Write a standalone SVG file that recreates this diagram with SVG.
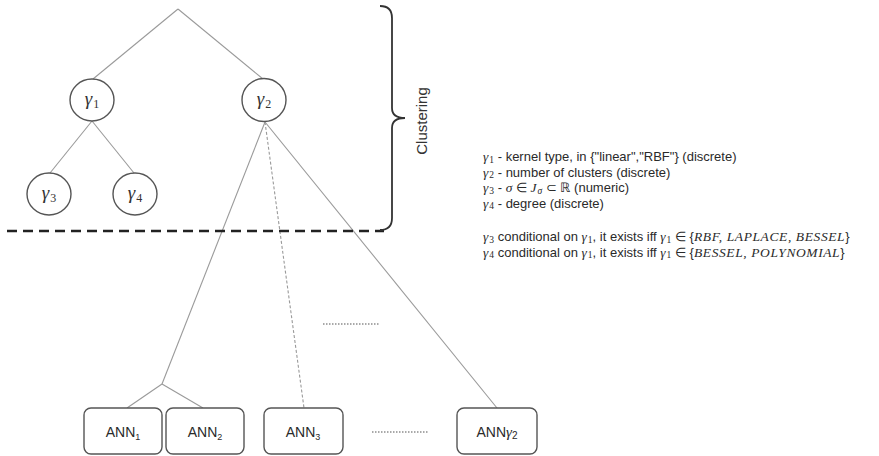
<svg xmlns="http://www.w3.org/2000/svg" width="879" height="456" viewBox="0 0 879 456">
<style>
.edge{stroke:#9a9a9a;stroke-width:1.1;fill:none}
.circ{fill:#fff;stroke:#555;stroke-width:1.4}
.box{fill:#fff;stroke:#555;stroke-width:1.4}
.g{font-family:"Liberation Serif","DejaVu Serif",serif;font-style:italic;font-size:19px;fill:#333}
.gs{font-family:"Liberation Serif","DejaVu Serif",serif;font-style:normal;font-size:12px;fill:#333}
.lbl{font-family:"Liberation Sans",Arial,sans-serif;font-size:14px;fill:#2a2a2a;text-anchor:middle}
.txt{font-family:"Liberation Sans",Arial,sans-serif;font-size:13px;fill:#2a2a2a}
.m{font-family:"Liberation Serif","DejaVu Serif",serif;font-style:italic;font-size:13.5px}
.set{font-family:"Liberation Serif","DejaVu Serif",serif;font-style:italic;font-size:13.5px;letter-spacing:0.6px}
.ms{font-family:"Liberation Serif","DejaVu Serif",serif;font-size:9.5px}
.dot{stroke:#555;stroke-width:1.2;stroke-dasharray:1.5 1.5}
</style>
<g id="connectors">
<line class="edge" x1="178" y1="9" x2="93" y2="79"/>
<line class="edge" x1="178" y1="9" x2="263" y2="79"/>
<line class="edge" x1="92" y1="121" x2="50" y2="173"/>
<line class="edge" x1="92" y1="121" x2="134" y2="173"/>
<line class="edge" x1="265" y1="122" x2="162" y2="384"/>
<line class="edge" x1="162" y1="384" x2="127" y2="408"/>
<line class="edge" x1="162" y1="384" x2="203" y2="408"/>
<line class="edge" x1="265" y1="122" x2="304" y2="408" stroke-dasharray="3 2"/>
<line class="edge" x1="265" y1="122" x2="497" y2="408"/>
</g>
<g id="separator">
<line x1="7" y1="231" x2="384" y2="231" stroke="#222" stroke-width="2.6" stroke-dasharray="10 6"/>
</g>
<g id="brace">
<path d="M380,6 Q392,6 392,18 L392,108 Q392,118 405,118 Q392,118 392,128 L392,218 Q392,230 380,230" fill="none" stroke="#333" stroke-width="1.8"/>
<text transform="translate(427,121) rotate(-90)" font-family="Liberation Sans,Arial,sans-serif" font-size="15" fill="#333" text-anchor="middle">Clustering</text>
</g>
<g id="gamma1">
<ellipse class="circ" cx="92" cy="100" rx="22" ry="21"/>
<text x="92" y="105" text-anchor="middle"><tspan class="g">γ</tspan><tspan class="gs" dx="1" dy="3">1</tspan></text>
</g>
<g id="gamma2">
<ellipse class="circ" cx="264" cy="100" rx="22" ry="21.5"/>
<text x="264" y="105" text-anchor="middle"><tspan class="g">γ</tspan><tspan class="gs" dx="1" dy="3">2</tspan></text>
</g>
<g id="gamma3">
<ellipse class="circ" cx="49" cy="194" rx="22" ry="21"/>
<text x="49" y="199" text-anchor="middle"><tspan class="g">γ</tspan><tspan class="gs" dx="1" dy="3">3</tspan></text>
</g>
<g id="gamma4">
<ellipse class="circ" cx="135" cy="194" rx="22" ry="21"/>
<text x="135" y="199" text-anchor="middle"><tspan class="g">γ</tspan><tspan class="gs" dx="1" dy="3">4</tspan></text>
</g>
<g id="ann1">
<rect class="box" x="84" y="408" width="78" height="46" rx="7"/>
<text class="lbl" x="123" y="437">ANN<tspan font-size="9" dy="3">1</tspan></text>
</g>
<g id="ann2">
<rect class="box" x="166" y="408" width="78" height="46" rx="7"/>
<text class="lbl" x="205" y="437">ANN<tspan font-size="9" dy="3">2</tspan></text>
</g>
<g id="ann3">
<rect class="box" x="264" y="408" width="79" height="46" rx="7"/>
<text class="lbl" x="303" y="437">ANN<tspan font-size="9" dy="3">3</tspan></text>
</g>
<g id="anng2">
<rect class="box" x="457" y="408" width="80" height="46" rx="7"/>
<text class="lbl" x="497" y="437">ANN<tspan font-family="Liberation Serif,serif" font-style="italic" font-size="15">γ</tspan><tspan font-size="10" dy="2">2</tspan></text>
</g>
<g id="ellipses">
<line class="dot" x1="323" y1="324" x2="379" y2="324"/>
<line class="dot" x1="372" y1="432" x2="428" y2="432"/>
</g>
<g id="legend" class="txt">
<text x="483" y="161"><tspan class="m">γ</tspan><tspan class="ms" dx="1" dy="1.5">1</tspan><tspan dy="-1.5"> - kernel type, in {"linear","RBF"} (discrete)</tspan></text>
<text x="483" y="176.5"><tspan class="m">γ</tspan><tspan class="ms" dx="1" dy="1.5">2</tspan><tspan dy="-1.5"> - number of clusters (discrete)</tspan></text>
<text x="483" y="192"><tspan class="m">γ</tspan><tspan class="ms" dx="1" dy="1.5">3</tspan><tspan dy="-1.5"> - </tspan><tspan class="m">σ</tspan><tspan> ∈ </tspan><tspan class="m">J</tspan><tspan class="ms" font-style="italic" dx="1" dy="1.5">σ</tspan><tspan dy="-1.5"> ⊂ ℝ (numeric)</tspan></text>
<text x="483" y="207.5"><tspan class="m">γ</tspan><tspan class="ms" dx="1" dy="1.5">4</tspan><tspan dy="-1.5"> - degree (discrete)</tspan></text>
<text x="483" y="241"><tspan class="m">γ</tspan><tspan class="ms" dx="1" dy="1.5">3</tspan><tspan dy="-1.5"> conditional on </tspan><tspan class="m">γ</tspan><tspan class="ms" dx="1" dy="1.5">1</tspan><tspan dy="-1.5">, it exists iff </tspan><tspan class="m">γ</tspan><tspan class="ms" dx="1" dy="1.5">1</tspan><tspan dy="-1.5"> ∈ {</tspan><tspan class="set">RBF, LAPLACE, BESSEL</tspan><tspan>}</tspan></text>
<text x="483" y="256.5"><tspan class="m">γ</tspan><tspan class="ms" dx="1" dy="1.5">4</tspan><tspan dy="-1.5"> conditional on </tspan><tspan class="m">γ</tspan><tspan class="ms" dx="1" dy="1.5">1</tspan><tspan dy="-1.5">, it exists iff </tspan><tspan class="m">γ</tspan><tspan class="ms" dx="1" dy="1.5">1</tspan><tspan dy="-1.5"> ∈ {</tspan><tspan class="set">BESSEL, POLYNOMIAL</tspan><tspan>}</tspan></text>
</g>
</svg>
